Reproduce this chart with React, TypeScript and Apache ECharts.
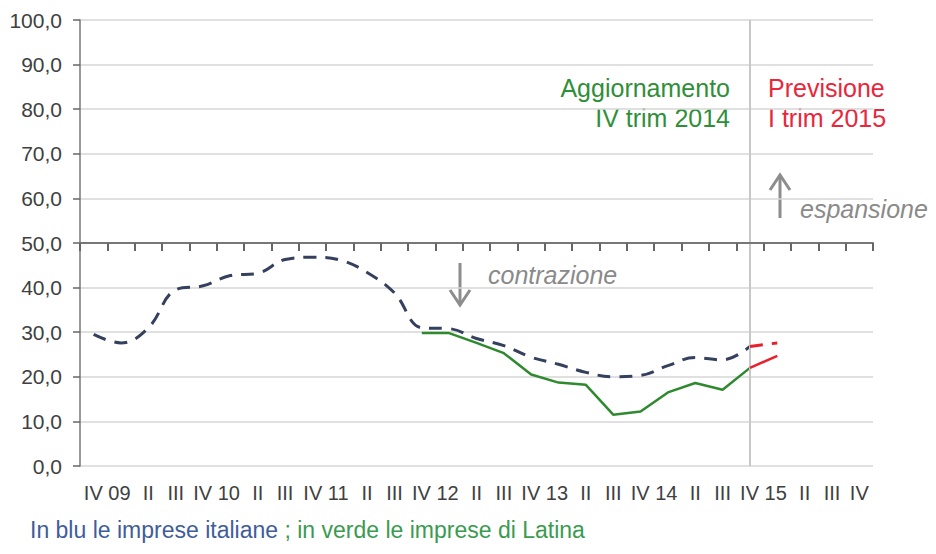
import React, { useEffect, useRef } from "react";
import * as echarts from "echarts";

// Categories (quarters) and the tick labels as shown under the axis
const periods = [
  "IV 09", "I 10", "II 10", "III 10", "IV 10", "I 11", "II 11", "III 11",
  "IV 11", "I 12", "II 12", "III 12", "IV 12", "I 13", "II 13", "III 13",
  "IV 13", "I 14", "II 14", "III 14", "IV 14", "I 15", "II 15", "III 15",
  "IV 15", "I 16", "II 16", "III 16", "IV 16",
];
const tickLabels = [
  "IV 09", "", "II", "III", "IV 10", "", "II", "III",
  "IV 11", "", "II", "III", "IV 12", "", "II", "III",
  "IV 13", "", "II", "III", "IV 14", "", "II", "III",
  "IV 15", "", "II", "III", "IV",
];

// Series values
const italyValues = [
  29.5, 27.6, 31.0, 39.5, 40.4, 42.7, 43.2, 46.3, 46.8, 46.2, 43.4, 38.8,
  31.0, 30.8, 28.6, 27.0, 24.4, 22.8, 21.0, 20.0, 20.3, 22.5, 24.3, 23.8, 26.8,
];
const latinaStart = 12;
const latinaValues = [29.8, 29.8, 27.6, 25.3, 20.5, 18.7, 18.2, 11.5, 12.2, 16.5, 18.6, 17.1, 22.0];
const forecastStart = 24;
const italyForecast = [26.8, 27.6];
const latinaForecast = [22.0, 24.7];
const dividerIndex = 24;

const yTicks = { min: 0, max: 100, interval: 10 };

const FONT = "'Liberation Sans', Arial, sans-serif";

function place(values: number[], start: number): (number | null)[] {
  const out: (number | null)[] = periods.map(() => null);
  values.forEach((v, i) => {
    out[start + i] = v;
  });
  return out;
}

export default function App() {
  const ref = useRef<HTMLDivElement>(null);

  useEffect(() => {
    if (!ref.current) return;
    const chart = echarts.init(ref.current, null, { renderer: "svg" });
    const gridTop = 20;
    const gridBottom = 88;
    const gridHeight = 554 - gridTop - gridBottom;
    const axisOffset = -gridHeight / 2; // x axis crossing at value 50

    chart.setOption({
      animation: false,
      backgroundColor: "#ffffff",
      grid: { left: 80, right: 63, top: gridTop, bottom: gridBottom, containLabel: false },
      xAxis: [
        {
          type: "category",
          data: periods,
          position: "bottom",
          offset: axisOffset,
          boundaryGap: true,
          axisLine: { show: true, onZero: false, lineStyle: { color: "#777777", width: 2 } },
          axisTick: {
            show: true,
            interval: 0,
            alignWithLabel: false,
            inside: false,
            length: 8,
            lineStyle: { color: "#666666", width: 2 },
          },
          axisLabel: { show: true, interval: 0, color: "rgba(0,0,0,0)", fontSize: 1, formatter: () => "" },
          splitLine: { show: false },
          z: 5,
        },
        {
          type: "category",
          data: periods,
          position: "bottom",
          boundaryGap: true,
          axisLine: { show: false },
          axisTick: { show: false },
          splitLine: { show: false },
          axisLabel: {
            show: true,
            interval: 0,
            margin: 17,
            fontSize: 20,
            color: "#404040",
            fontFamily: FONT,
            formatter: (_v: string, idx: number) => {
              const t = tickLabels[idx];
              return t.indexOf(" ") >= 0 ? `{yr|${t}}` : t;
            },
            rich: {
              yr: { fontSize: 20, color: "#404040", fontFamily: FONT, padding: [0, 0, 0, 27] },
            },
          },
        },
      ],
      yAxis: {
        type: "value",
        min: yTicks.min,
        max: yTicks.max,
        interval: yTicks.interval,
        axisLine: { show: true, lineStyle: { color: "#777777", width: 1.5 } },
        axisTick: { show: true, inside: false, length: 7, lineStyle: { color: "#666666", width: 1.5 } },
        axisLabel: {
          margin: 18,
          fontSize: 21,
          color: "#404040",
          fontFamily: FONT,
          formatter: (v: number) => v.toFixed(1).replace(".", ","),
        },
        splitLine: { show: true, lineStyle: { color: "#d6d6d6", width: 1.5 } },
      },
      series: [
        {
          name: "imprese italiane",
          type: "line",
          data: place(italyValues, 0),
          smooth: 0.4,
          symbol: "none",
          connectNulls: false,
          lineStyle: { color: "#34405e", width: 3, type: [13, 9] },
          z: 3,
        },
        {
          name: "imprese di Latina",
          type: "line",
          data: place(latinaValues, latinaStart),
          smooth: false,
          symbol: "none",
          lineStyle: { color: "#2f8a2f", width: 2.5 },
          z: 4,
          markLine: {
            silent: true,
            symbol: "none",
            label: { show: false },
            lineStyle: { color: "#c8c8c8", width: 2, type: "solid" },
            data: [{ xAxis: dividerIndex }],
          },
        },
        {
          name: "previsione italiane",
          type: "line",
          data: place(italyForecast, forecastStart),
          symbol: "none",
          lineStyle: { color: "#e8202e", width: 3, type: [13, 9] },
          z: 5,
        },
        {
          name: "previsione Latina",
          type: "line",
          data: place(latinaForecast, forecastStart),
          symbol: "none",
          lineStyle: { color: "#e8202e", width: 2.5 },
          z: 5,
        },
      ],
      graphic: [
        {
          type: "text",
          x: 730,
          y: 73,
          style: {
            text: "Aggiornamento\nIV trim 2014",
            align: "right",
            verticalAlign: "top",
            fontSize: 25,
            lineHeight: 30,
            fontFamily: FONT,
            fill: "#2f8f38",
          },
        },
        {
          type: "text",
          x: 768,
          y: 73,
          style: {
            text: "Previsione\nI trim 2015",
            align: "left",
            verticalAlign: "top",
            fontSize: 25,
            lineHeight: 30,
            fontFamily: FONT,
            fill: "#e8263c",
          },
        },
        {
          type: "text",
          x: 488,
          y: 274.5,
          style: {
            text: "contrazione",
            align: "left",
            verticalAlign: "middle",
            fontSize: 25,
            fontStyle: "italic",
            fontFamily: FONT,
            fill: "#8a8a8a",
          },
        },
        {
          type: "text",
          x: 800,
          y: 208.5,
          style: {
            text: "espansione",
            align: "left",
            verticalAlign: "middle",
            fontSize: 25,
            fontStyle: "italic",
            fontFamily: FONT,
            fill: "#8a8a8a",
          },
        },
        {
          type: "line",
          shape: { x1: 460, y1: 263, x2: 460, y2: 304 },
          style: { stroke: "#8d8d8d", lineWidth: 3 },
        },
        {
          type: "polyline",
          shape: { points: [[450, 290], [460, 305], [470, 290]] },
          style: { stroke: "#8d8d8d", lineWidth: 3, fill: null },
        },
        {
          type: "line",
          shape: { x1: 780, y1: 218, x2: 780, y2: 177 },
          style: { stroke: "#8d8d8d", lineWidth: 3 },
        },
        {
          type: "polyline",
          shape: { points: [[770, 190], [780, 175], [790, 190]] },
          style: { stroke: "#8d8d8d", lineWidth: 3, fill: null },
        },
        {
          type: "text",
          x: 30,
          y: 530,
          style: {
            text: "{b|In blu le imprese italiane }{g|; in verde le imprese di Latina}",
            verticalAlign: "middle",
            align: "left",
            rich: {
              b: { fontSize: 23, fontFamily: FONT, fill: "#3f5d9a", color: "#3f5d9a" },
              g: { fontSize: 23, fontFamily: FONT, fill: "#3a9b4f", color: "#3a9b4f" },
            },
          },
        },
      ],
    });
    return () => chart.dispose();
  }, []);

  return (
    <div
      ref={ref}
      style={{ position: "fixed", left: 0, top: 0, width: 936, height: 554, background: "#fff" }}
    />
  );
}
